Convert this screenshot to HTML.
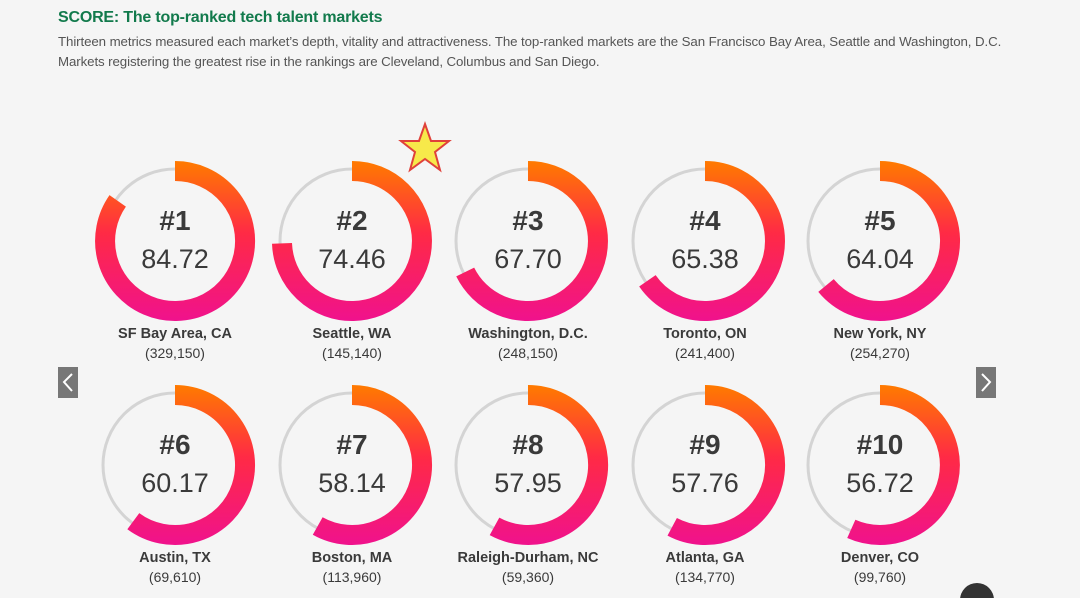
<!DOCTYPE html>
<html><head><meta charset="utf-8"><style>
html,body{margin:0;padding:0;background:#f5f5f5;width:1080px;height:598px;overflow:hidden;font-family:"Liberation Sans",sans-serif}
.t{position:absolute;left:58px;top:9px;font-size:16px;font-weight:bold;color:#127a4c;letter-spacing:-0.2px}
.d{position:absolute;left:58px;top:32px;font-size:13.3px;color:#555;line-height:20px;letter-spacing:-0.1px}
</style></head><body>
<div class="t">SCORE: The top-ranked tech talent markets</div>
<div class="d">Thirteen metrics measured each market’s depth, vitality and attractiveness. The top-ranked markets are the San Francisco Bay Area, Seattle and Washington, D.C.<br>Markets registering the greatest rise in the rankings are Cleveland, Columbus and San Diego.</div>
<svg width="1080" height="598" style="position:absolute;left:0;top:0" xmlns="http://www.w3.org/2000/svg">
<defs>
<linearGradient id="g1" gradientUnits="userSpaceOnUse" x1="0" y1="162" x2="0" y2="320"><stop offset="0" stop-color="#ff7a00"/><stop offset="0.45" stop-color="#ff2a45"/><stop offset="1" stop-color="#f0128c"/></linearGradient>
<linearGradient id="g2" gradientUnits="userSpaceOnUse" x1="0" y1="386" x2="0" y2="544"><stop offset="0" stop-color="#ff7a00"/><stop offset="0.45" stop-color="#ff2a45"/><stop offset="1" stop-color="#f0128c"/></linearGradient>
</defs>
<g id="rings"></g>
<polygon points="425,124 431,141 449,141 435,152 440,170 425,159 410,170 415,152 401,141 419,141" fill="#f7e94a" stroke="#e0413a" stroke-width="2"/>
<rect x="58" y="367" width="20" height="31" fill="#777"/><polyline points="72,374 64,382 72,391" fill="none" stroke="#fff" stroke-width="2"/>
<rect x="976" y="367" width="20" height="31" fill="#777"/><polyline points="982,374 990,382 982,391" fill="none" stroke="#fff" stroke-width="2"/>
<circle cx="977" cy="600" r="17" fill="#333"/>
</svg>
<script>
var data=[["#1","84.72","SF Bay Area, CA","(329,150)"],["#2","74.46","Seattle, WA","(145,140)"],["#3","67.70","Washington, D.C.","(248,150)"],["#4","65.38","Toronto, ON","(241,400)"],["#5","64.04","New York, NY","(254,270)"],["#6","60.17","Austin, TX","(69,610)"],["#7","58.14","Boston, MA","(113,960)"],["#8","57.95","Raleigh-Durham, NC","(59,360)"],["#9","57.76","Atlanta, GA","(134,770)"],["#10","56.72","Denver, CO","(99,760)"]];
var xs=[175,352,528,705,880],s="",R=70;
data.forEach(function(d,i){var cx=xs[i%5],cy=i<5?241:465,g=i<5?"g1":"g2";var f=parseFloat(d[1])/100,a=f*2*Math.PI;
var ex=cx+R*Math.sin(a),ey=cy-R*Math.cos(a);
s+='<circle cx="'+cx+'" cy="'+cy+'" r="'+(R+2)+'" fill="none" stroke="#d4d4d4" stroke-width="3"/>';
s+='<path d="M'+cx+' '+(cy-R)+' A'+R+' '+R+' 0 '+(f>0.5?1:0)+' 1 '+ex.toFixed(1)+' '+ey.toFixed(1)+'" fill="none" stroke="url(#'+g+')" stroke-width="20"/>';
s+='<text x="'+cx+'" y="'+(cy-11)+'" text-anchor="middle" font-size="28" font-weight="bold" fill="#3a3a3a" font-family="Liberation Sans">'+d[0]+'</text>';
s+='<text x="'+cx+'" y="'+(cy+27)+'" text-anchor="middle" font-size="27" fill="#3a3a3a" font-family="Liberation Sans">'+d[1]+'</text>';
s+='<text x="'+cx+'" y="'+(cy+97)+'" text-anchor="middle" font-size="14.5" font-weight="bold" fill="#3a3a3a" font-family="Liberation Sans">'+d[2]+'</text>';
s+='<text x="'+cx+'" y="'+(cy+117)+'" text-anchor="middle" font-size="14" fill="#3a3a3a" font-family="Liberation Sans">'+d[3]+'</text>';});
document.getElementById("rings").innerHTML=s;
</script>
</body></html>
